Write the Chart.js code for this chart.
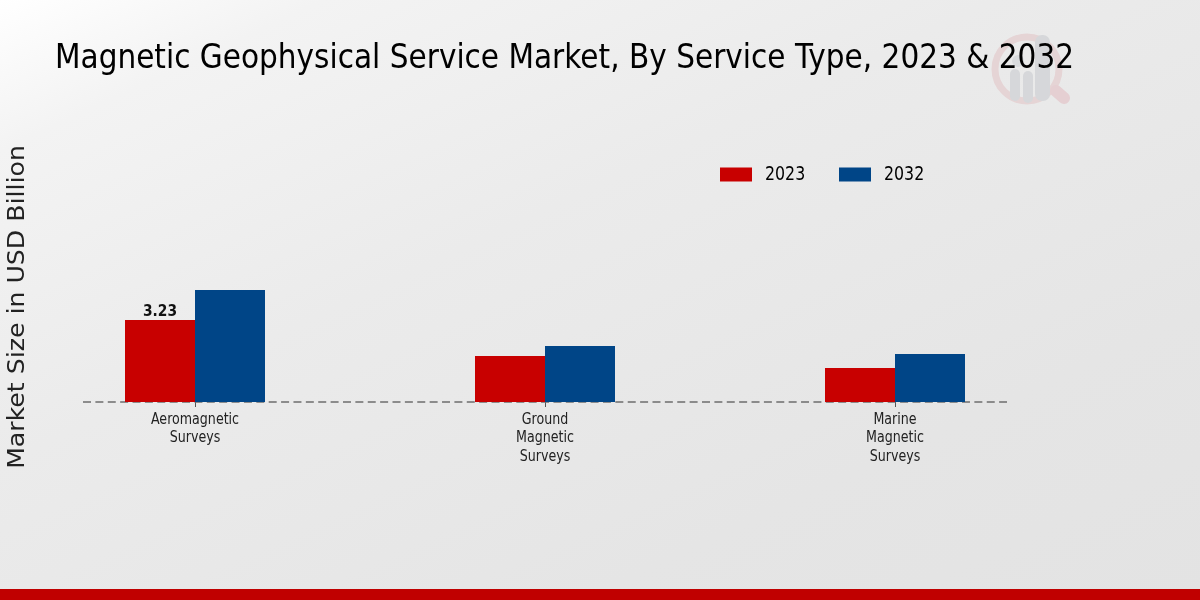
<!DOCTYPE html>
<html>
<head>
<meta charset="utf-8">
<style>
  html, body { margin: 0; padding: 0; }
  #wrap { position: relative; width: 1200px; height: 600px; overflow: hidden;
          background: linear-gradient(155deg, #ffffff 0%, #f3f3f3 13%, #ebebeb 40%, #e5e5e5 75%, #e3e3e3 100%); }
  #logo { position: absolute; left: 990px; top: 25px; opacity: 0.9; }
  #myChart { position: absolute; left: 0; top: 0; }
  #footer { position: absolute; left: 0; top: 589px; width: 1200px; height: 11px; background: #c00000; }
</style>
<script src="https://cdn.jsdelivr.net/npm/chart.js@4"></script>
</head>
<body>
<div id="wrap">
  <svg id="logo" width="90" height="90" viewBox="0 0 90 90">
    <circle cx="37" cy="44" r="32" fill="none" stroke="#e5d2d3" stroke-width="7"/>
    <line x1="66" y1="66" x2="74" y2="73" stroke="#e5cdd0" stroke-width="12" stroke-linecap="round"/>
    <rect x="20" y="44" width="10" height="32" rx="5" fill="#d4d6d9"/>
    <rect x="33" y="46" width="10" height="32" rx="5" fill="#d4d6d9"/>
    <circle cx="28" cy="36" r="6" fill="#d8dadc"/>
    <rect x="45" y="10" width="15" height="66" rx="7" fill="#d4d6d9"/>
  </svg>
  <canvas id="myChart" width="1200" height="589"></canvas>
  <div id="footer"></div>
</div>
<script>
const categories = [["Aeromagnetic", "Surveys"], ["Ground", "Magnetic", "Surveys"], ["Marine", "Magnetic", "Surveys"]];
const series2023 = [3.23, 1.81, 1.34];
const series2032 = [4.41, 2.2, 1.89];
const seriesNames = ["2023", "2032"];
const titleText = "Magnetic Geophysical Service Market, By Service Type, 2023 & 2032";
const yTitleText = "Market Size in USD Billion";
const face = "'DejaVu Sans'";

// the reference text is plain DejaVu squeezed sideways
function squeezed(ctx, text, x, y, font, sx) {
    ctx.save();
    ctx.font = font;
    ctx.translate(x, y);
    ctx.scale(sx, 1);
    ctx.fillText(text, 0, 0);
    ctx.restore();
}

// dashed baseline goes under the bars
const baseline = {
    id: 'baseline',
    beforeDatasetsDraw(chart) {
        const ctx = chart.ctx;
        const x = chart.scales.x;
        const y = chart.scales.y.getPixelForValue(0);
        ctx.save();
        ctx.strokeStyle = '#6e6e6e';
        ctx.lineWidth = 1.3;
        ctx.setLineDash([8, 4.38]);
        ctx.beginPath();
        ctx.moveTo(x.getPixelForValue(0) - 112, y);
        ctx.lineTo(x.getPixelForValue(2) + 112, y);
        ctx.stroke();
        ctx.restore();
    }
};

// title, axis title, tick labels, legend and the one value label
const texts = {
    id: 'texts',
    afterDraw(chart) {
        const ctx = chart.ctx;
        ctx.save();
        ctx.fillStyle = '#000';
        ctx.textBaseline = 'middle';
        ctx.textAlign = 'left';
        squeezed(ctx, titleText, 55, 59, "34px " + face, 0.87);

        chart.data.datasets.forEach((ds, i) => {
            const lx = 720 + i * 119;
            ctx.fillStyle = ds.backgroundColor;
            ctx.fillRect(lx, 167.5, 32, 14);
            ctx.fillStyle = '#000';
            squeezed(ctx, ds.label, lx + 45, 175, "20px " + face, 0.79);
        });

        ctx.textAlign = 'center';
        ctx.fillStyle = '#222';
        categories.forEach((lines, i) => {
            const cx = chart.scales.x.getPixelForValue(i);
            lines.forEach((line, k) => {
                squeezed(ctx, line, cx, 419.5 + k * 18.5, "16px " + face, 0.79);
            });
        });

        const bar = chart.getDatasetMeta(0).data[0];
        ctx.fillStyle = '#111';
        squeezed(ctx, series2023[0].toFixed(2), bar.x, bar.y - 8, "bold 15px " + face, 0.92);

        ctx.translate(18, 307);
        ctx.rotate(-Math.PI / 2);
        ctx.scale(1, 0.92);
        ctx.fillStyle = '#222';
        ctx.font = "25.2px " + face;
        ctx.fillText(yTitleText, 0, 0);
        ctx.restore();
    }
};

const ctx = document.getElementById('myChart').getContext('2d');
new Chart(ctx, {
    type: 'bar',
    data: {
        labels: categories,
        datasets: [
            { label: seriesNames[0], data: series2023, backgroundColor: '#c80000' },
            { label: seriesNames[1], data: series2032, backgroundColor: '#004587' }
        ]
    },
    options: {
        responsive: false,
        animation: false,
        layout: { padding: { left: 20, right: 130, top: 97, bottom: 0 } },
        datasets: { bar: { barPercentage: 1, categoryPercentage: 0.4 } },
        plugins: { legend: { display: false }, title: { display: false }, tooltip: { enabled: false } },
        scales: {
            x: {
                afterFit(scale) { scale.height = 187; },
                grid: { offset: false, drawOnChartArea: false, tickLength: 5, tickColor: '#555', tickWidth: 1 },
                border: { display: false },
                ticks: { display: false, autoSkip: false }
            },
            y: { display: false, min: 0, max: 12 }
        }
    },
    plugins: [baseline, texts]
});
</script>
</body>
</html>
